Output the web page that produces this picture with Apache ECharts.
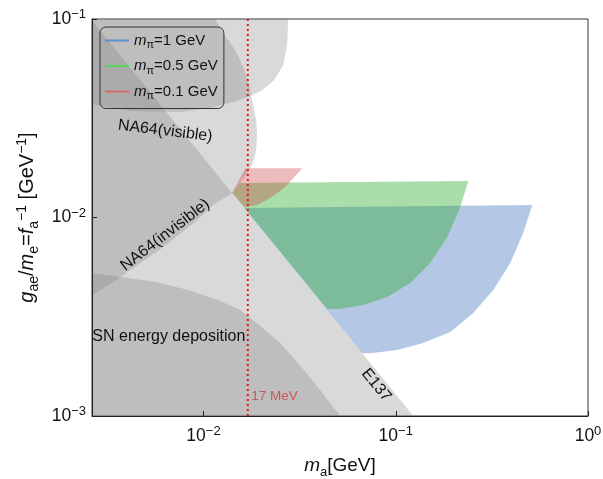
<!DOCTYPE html>
<html><head><meta charset="utf-8">
<script src="https://cdn.jsdelivr.net/npm/echarts@6/dist/echarts.min.js"></script>
<style>html,body{margin:0;padding:0;background:#fff}#c{width:603px;height:479px}</style>
</head><body><div id="c"></div>
<script>
// ---- axis settings (log10 exponents) ----
const xTickExp = [-2, -1, 0];
const yTickExp = [-3, -2, -1];
const xExpRange = [-2.58, 0];
const yExpRange = [-3, -1];

// ---- excluded regions: [m_a (GeV), g_ae/m_e (GeV^-1)] ----
const e137Region = [[0.001,0.112],[0.00236,0.112],[0.1234,0.001],[0.135,0.0009],[0.001,0.0009]];
const na64Region = [[0.001,0.1],[0.0115,0.1],[0.01265,0.085],[0.01462,0.0698],[0.0161,0.0573],
  [0.01729,0.0465],[0.01791,0.0391],[0.01879,0.031],[0.01901,0.0261],[0.01879,0.0219],
  [0.01815,0.0191],[0.01688,0.0167],[0.01553,0.01493],[0.01409,0.01329],
  [0.01123,0.01156],[0.00927,0.00971],[0.00618,0.0071],[0.00416,0.00544],[0.00339,0.00473],
  [0.00261,0.00403],[0.002,0.0034],[0.001,0.0034]];
const beamDumpRegion = [[0.001,0.1],[0.0276,0.1],[0.02723,0.074],[0.026,0.0586],[0.02333,0.0493],
  [0.02018,0.0438],[0.0175,0.0409],[0.01429,0.0382],[0.01083,0.0356],[0.00757,0.034],
  [0.00416,0.0344],[0.00261,0.0373],[0.002,0.0385],[0.001,0.0385]];
const snRegion = [[0.001,0.00525],[0.00261,0.00525],[0.00373,0.00501],[0.00561,0.00473],[0.00833,0.00431],
  [0.01191,0.00384],[0.01553,0.00342],[0.01972,0.00284],[0.02504,0.00233],[0.03184,0.00179],
  [0.04046,0.00135],[0.0514,0.001],[0.055,0.0009],[0.001,0.0009]];

// ---- allowed regions for m_pi ----
const mpi1Region = [[0.01629,0.01117],[0.5129,0.01156],[0.4603,0.00836],[0.3942,0.0059],[0.3217,0.00431],
  [0.2531,0.0033],[0.1922,0.00265],[0.139,0.00233],[0.1018,0.00215],[0.0737,0.00207],[0.067,0.00207]];
const mpi05Region = [[0.01409,0.01329],[0.01553,0.01493],[0.2382,0.01528],[0.2168,0.0113],[0.1855,0.00798],
  [0.1512,0.0059],[0.1189,0.00468],[0.0903,0.00398],[0.0678,0.00362],[0.0514,0.00346],[0.04406,0.00346]];
const mpi01Region = [[0.01409,0.01329],[0.01649,0.0177],[0.03266,0.0177],[0.02661,0.01426],
  [0.02223,0.01254],[0.01901,0.01156],[0.0163,0.0113]];

const line17MeV = [[0.017,0.001],[0.017,0.1]];

// ---- annotations: [m_a, g, text, rotationDeg, fontSize, align, color] ----
const annotations = [
  [0.00632,0.0273,'NA64(visible)',-7,16,'center','#111'],
  [0.00632,0.00817,'NA64(invisible)',37.5,16,'center','#111'],
  [0.00264,0.0025,'SN energy deposition',0,16,'left','#111'],
  [0.0792,0.00143,'E137',-51,16,'center','#111'],
  [0.0177,0.00125,'17 MeV',0,13.5,'left','#c85a5a']
];

const legendNames = ['mpi1','mpi05','mpi01'];
const legendLabels = {mpi1:'{i|m}{s|π}{n|=1 GeV}', mpi05:'{i|m}{s|π}{n|=0.5 GeV}', mpi01:'{i|m}{s|π}{n|=0.1 GeV}'};
const legendColors = {mpi1:'#5b8fd6', mpi05:'#5ed35e', mpi01:'#d86a6a'};

const FONT = 'Liberation Sans, Arial, sans-serif';
const L = v => Math.log10(v);
const supTxt = v => (v < 0 ? '−' + Math.abs(v) : String(v));

function polySeries(name, pts, fill, z) {
  const d = pts.map(p => [L(p[0]), L(p[1])]);
  return {
    type: 'custom', name, coordinateSystem: 'cartesian2d', clip: true, silent: true, z,
    data: d,
    renderItem: (params, api) => {
      if (params.dataIndex !== 0) return;
      return { type: 'polygon', shape: { points: d.map(q => api.coord(q)) }, style: { fill } };
    }
  };
}

const chart = echarts.init(document.getElementById('c'), null, {renderer:'canvas'});
const tickRich = {
  b: { fontSize: 17.5, lineHeight: 22, fontFamily: FONT, color: '#111' },
  e: { fontSize: 13, lineHeight: 13, verticalAlign: 'top', fontFamily: FONT, color: '#111' }
};
function nameRich(f, fs) {
  return {
    i: { fontSize: f, fontStyle: 'italic', lineHeight: 26, fontFamily: FONT, color: '#111' },
    n: { fontSize: f, lineHeight: 26, fontFamily: FONT, color: '#111' },
    s: { fontSize: fs, lineHeight: fs, verticalAlign: 'bottom', fontFamily: FONT, color: '#111' },
    p: { fontSize: fs, lineHeight: fs, verticalAlign: 'top', fontFamily: FONT, color: '#111' }
  };
}

const option = {
  animation: false,
  backgroundColor: '#fff',
  grid: { left: 92, right: 15, top: 19, bottom: 63, containLabel: false, outerBoundsMode: 'none',
    show: true, borderColor: '#333', borderWidth: 1, backgroundColor: 'rgba(0,0,0,0)' },
  xAxis: {
    type: 'value', min: xExpRange[0], max: xExpRange[1], z: 10,
    name: '{i|m}{s|a}{n|[GeV]}', nameLocation: 'middle', nameGap: 37,
    nameTextStyle: { rich: nameRich(19, 13) },
    axisLine: { show: true, onZero: false, lineStyle: { color: '#222', width: 1 } },
    axisTick: { show: true, inside: true, length: 5, customValues: xTickExp, lineStyle: { color: '#222' } },
    axisLabel: { customValues: xTickExp, margin: 9, formatter: v => '{b|10}{e|' + supTxt(v) + '}', rich: tickRich },
    splitLine: { show: false }
  },
  yAxis: {
    type: 'value', min: yExpRange[0], max: yExpRange[1], interval: 1, z: 10,
    name: '{i|g}{s|ae}{n|/}{i|m}{s|e}{n|=}{i|f}{s|a}{p|−1}{n| [GeV}{p|−1}{n|]}',
    nameLocation: 'middle', nameGap: 43, nameRotate: 90,
    nameTextStyle: { rich: nameRich(20, 14) },
    axisLine: { show: true, onZero: false, lineStyle: { color: '#222', width: 1 } },
    axisTick: { show: true, inside: true, length: 5, customValues: yTickExp, lineStyle: { color: '#222' } },
    axisLabel: { customValues: yTickExp, margin: 6, formatter: v => '{b|10}{e|' + supTxt(v) + '}', rich: tickRich },
    splitLine: { show: false }
  },
  legend: {
    orient: 'vertical', left: 100, top: 27, padding: [6, 6, 7, 5], itemGap: 8,
    itemWidth: 24, itemHeight: 2, icon: 'rect', itemTextGap: 6,
    borderColor: '#333', borderWidth: 1, borderRadius: 6, backgroundColor: 'rgba(0,0,0,0)',
    selectedMode: false,
    data: legendNames.map(n => ({ name: n, itemStyle: { color: legendColors[n] } })),
    formatter: n => legendLabels[n],
    textStyle: { rich: {
      i: { fontSize: 15, fontStyle: 'italic', lineHeight: 20, fontFamily: FONT, color: '#111' },
      s: { fontSize: 11, lineHeight: 11, verticalAlign: 'bottom', fontFamily: FONT, color: '#111' },
      n: { fontSize: 15, lineHeight: 20, fontFamily: FONT, color: '#111' }
    } }
  },
  series: [
    polySeries('e137', e137Region, 'rgba(128,128,128,0.3)', 1),
    polySeries('na64', na64Region, 'rgba(128,128,128,0.3)', 1),
    polySeries('bd', beamDumpRegion, 'rgba(128,128,128,0.3)', 1),
    polySeries('sn', snRegion, 'rgba(128,128,128,0.3)', 1),
    polySeries('mpi1', mpi1Region, 'rgba(67,117,192,0.4)', 2),
    polySeries('mpi05', mpi05Region, 'rgba(40,170,40,0.4)', 2),
    polySeries('mpi01', mpi01Region, 'rgba(200,60,60,0.35)', 2),
    {
      type: 'line', name: '17MeV', z: 3, silent: true, symbol: 'none',
      data: line17MeV.map(p => [L(p[0]), L(p[1])]),
      lineStyle: { color: '#ee1111', width: 2, type: [2, 3] }
    },
    {
      type: 'custom', name: 'labels', coordinateSystem: 'cartesian2d', z: 4, silent: true, clip: false,
      data: annotations.map(a => [L(a[0]), L(a[1])]),
      renderItem: (params, api) => {
        const a = annotations[params.dataIndex];
        const p = api.coord([L(a[0]), L(a[1])]);
        return { type: 'text', x: p[0], y: p[1], rotation: a[3] * Math.PI / 180,
          style: { text: a[2], fontSize: a[4], fontFamily: FONT, fill: a[6], align: a[5], verticalAlign: 'middle' } };
      }
    }
  ]
};
chart.setOption(option);
</script></body></html>
